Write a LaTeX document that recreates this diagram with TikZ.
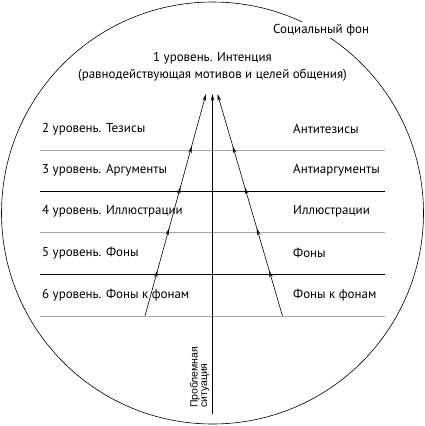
\documentclass[tikz,border=0pt]{standalone}
\usepackage{fontspec}
\setmainfont{PT Sans}
\newfontfamily\narrowfont{Liberation Sans}
\usetikzlibrary{arrows.meta,decorations.markings}
\begin{document}
\begin{tikzpicture}[x=1bp,y=-1bp,
  lbl/.style={anchor=west,inner sep=0pt,font=\fontsize{13}{15}\selectfont},
  grayline/.style={draw=black!35,line width=0.9pt},
  blackline/.style={draw=black,line width=0.8pt},
  tip/.style={-{Stealth[length=7pt,width=3.5pt]}},
  midarrows/.style={postaction={decorate},decoration={markings,
    mark=at position 0.205 with {\arrow{Stealth[length=7pt,width=3.5pt]}},
    mark=at position 0.395 with {\arrow{Stealth[length=7pt,width=3.5pt]}},
    mark=at position 0.58 with {\arrow{Stealth[length=7pt,width=3.5pt]}},
    mark=at position 0.765 with {\arrow{Stealth[length=7pt,width=3.5pt]}}}}
]
\useasboundingbox (0,0) rectangle (425,426);
\draw[line width=0.6pt] (212.5,213) circle[radius=211];
% horizontal lines
\coordinate (h1l) at (40,150); \coordinate (h1r) at (385,150);
\coordinate (h2l) at (40,191.5); \coordinate (h2r) at (385,191.5);
\coordinate (h3l) at (40,232.5); \coordinate (h3r) at (385,232.5);
\coordinate (h4l) at (40,274); \coordinate (h4r) at (385,274);
\coordinate (h5l) at (40,316); \coordinate (h5r) at (385,316);
\draw[grayline] (h1l) -- (h1r);
\draw[blackline] (h2l) -- (h2r);
\draw[grayline] (h3l) -- (h3r);
\draw[blackline] (h4l) -- (h4r);
\draw[grayline] (h5l) -- (h5r);
% arrows
\coordinate (vb) at (212.5,414);
\coordinate (vt) at (212.5,94);
\coordinate (lb) at (145,316);
\coordinate (lt) at (206,94);
\coordinate (rb) at (282.5,316);
\coordinate (rt) at (217.5,94);
\draw[line width=0.8pt,tip] (vb) -- (vt);
\draw[line width=0.6pt,tip,midarrows] (lb) -- (lt);
\draw[line width=0.6pt,tip,midarrows] (rb) -- (rt);
% texts
\node[lbl,anchor=west,fill=white,inner sep=2pt] (soc) at (271,30) {Социальный фон};
\node[lbl,anchor=center] (t1) at (212.5,58) {1 уровень. Интенция};
\node[lbl,anchor=center] (t2) at (212.5,75) {(равнодействующая мотивов и целей общения)};
\node[lbl] (l2) at (42,129) {2 уровень. Тезисы};
\node[lbl] (l3) at (42,170.5) {3 уровень. Аргументы};
\node[lbl] (l4) at (42,211.5) {4 уровень. Иллюстрации};
\node[lbl] (l5) at (42,253) {5 уровень. Фоны};
\node[lbl] (l6) at (42,295) {6 уровень. Фоны к фонам};
\node[lbl] (r2) at (293,129) {Антитезисы};
\node[lbl] (r3) at (293,170.5) {Антиаргументы};
\node[lbl] (r4) at (293,211.5) {Иллюстрации};
\node[lbl] (r5) at (293,253) {Фоны};
\node[lbl] (r6) at (293,295) {Фоны к фонам};
\node[inner sep=0pt,rotate=90,anchor=south west,align=left,
  font=\narrowfont\fontsize{10.5}{9.5}\selectfont] (ps) at (209.5,408) {Проблемная\\ситуация};
\end{tikzpicture}
\end{document}
